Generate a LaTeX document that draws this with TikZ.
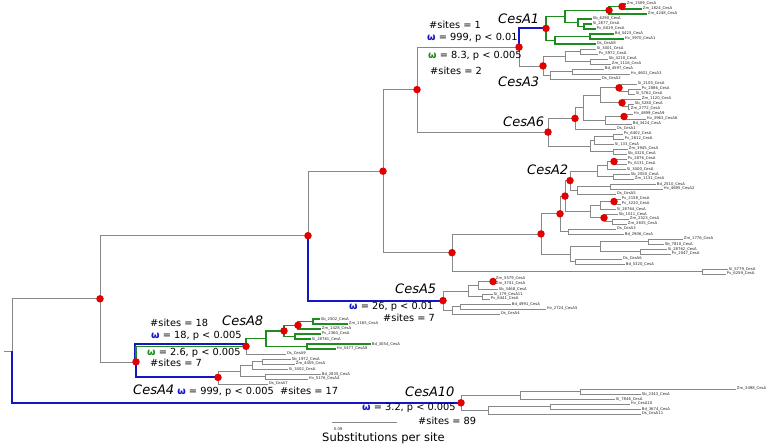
\documentclass[tikz,border=0pt]{standalone}
\usepackage{fontspec}
\setmainfont{DejaVu Sans}
\usetikzlibrary{positioning}

\definecolor{brgray}{HTML}{888888}
\definecolor{selblue}{HTML}{1414C8}
\definecolor{selgreen}{HTML}{1E8C1E}
\definecolor{dotred}{HTML}{E00000}
\newcommand{\wblue}{\textcolor{selblue}{\bfseries ω}}
\newcommand{\wgreen}{\textcolor{selgreen}{\bfseries ω}}

\tikzset{
  br/.style={draw=brgray, line width=0.8pt},
  brblue/.style={draw=selblue, line width=2pt},
  brgreen/.style={draw=selgreen, line width=1.3pt},
  leaf/.style={anchor=west, inner sep=0.7pt, font=\fontsize{3.8}{4}\selectfont, text=black!85},
  note/.style={anchor=west, inner sep=0pt, font=\fontsize{9.8}{11}\selectfont},
  clade/.style={anchor=west, inner sep=0pt, font=\fontsize{13}{15}\selectfont\itshape},
  supdot/.style={fill=dotred, circle, inner sep=0pt, minimum size=7.5pt}
}

\begin{document}
\begin{tikzpicture}[x=1pt,y=-1pt]
\useasboundingbox (0,0) rectangle (777,445);

% leaves, 5px apart
\foreach \i/\x/\t in {
  1/626/Zm\_1509\_CesA, 2/642/Zm\_1824\_CesA, 3/647/Zm\_4248\_CesA,
  4/592/Sb\_6290\_CesA, 5/592/Si\_2877\_CesA, 6/596/Pv\_6019\_CesA,
  7/614/Bd\_5425\_CesA, 8/624/Hv\_3970\_CesA1, 9/596/Os\_CesA8,
  10/596/Si\_3401\_CesA, 11/598/Pv\_5972\_CesA, 12/608/Sb\_4210\_CesA,
  13/611/Zm\_1116\_CesA, 14/604/Bd\_4597\_CesA, 15/630/Hv\_4601\_CesA3,
  16/601/Os\_CesA2, 17/637/Si\_2105\_CesA, 18/641/Pv\_2886\_CesA,
  19/635/Si\_5762\_CesA, 20/641/Zm\_1120\_CesA, 21/634/Sb\_5280\_CesA,
  22/630/Zm\_2772\_CesA, 23/633/Hv\_4899\_CesA9, 24/646/Hv\_3963\_CesA6,
  25/632/Bd\_3424\_CesA, 26/616/Os\_CesA1, 27/623/Pv\_6402\_CesA,
  28/624/Pv\_2612\_CesA, 29/614/Si\_133\_CesA, 30/628/Zm\_3945\_CesA,
  31/627/Sb\_4320\_CesA, 32/627/Pv\_2876\_CesA, 33/627/Pv\_6131\_CesA,
  34/626/Si\_3400\_CesA, 35/630/Sb\_2050\_CesA, 36/634/Zm\_1131\_CesA,
  37/656/Bd\_2510\_CesA, 38/663/Hv\_4695\_CesA2, 39/616/Os\_CesA5,
  40/621/Pv\_2158\_CesA, 41/621/Pv\_3220\_CesA, 42/616/Si\_28764\_CesA,
  43/618/Sb\_1011\_CesA, 44/629/Zm\_2523\_CesA, 45/627/Zm\_2835\_CesA,
  46/616/Os\_CesA3, 47/624/Bd\_2906\_CesA, 48/683/Zm\_1776\_CesA,
  49/664/Sb\_7810\_CesA, 50/667/Si\_28762\_CesA, 51/671/Pv\_2047\_CesA,
  52/622/Os\_CesA6, 53/625/Bd\_5320\_CesA, 54/728/Si\_5779\_CesA,
  55/726/Pv\_6259\_CesA, 56/495/Zm\_5579\_CesA, 57/495/Zm\_3741\_CesA,
  58/498/Sb\_3468\_CesA, 59/493/Si\_179\_CesA11, 60/490/Pv\_6441\_CesA,
  61/511/Bd\_4991\_CesA, 62/546/Hv\_2724\_CesA5, 63/500/Os\_CesA4,
  64/320/Sb\_2502\_CesA, 65/348/Zm\_1165\_CesA, 66/321/Zm\_1428\_CesA,
  67/321/Pv\_2360\_CesA, 68/311/Si\_28761\_CesA, 69/371/Bd\_3054\_CesA,
  70/336/Hv\_5477\_CesA8, 71/286/Os\_CesA9, 72/291/Sb\_1972\_CesA,
  73/295/Zm\_4459\_CesA, 74/288/Si\_3402\_CesA, 75/321/Bd\_2835\_CesA,
  76/308/Hv\_5176\_CesA4, 77/268/Os\_CesA7, 78/736/Zm\_3498\_CesA,
  79/641/Sb\_2343\_CesA, 80/615/Si\_7846\_CesA, 81/630/Hv\_CesA10,
  82/641/Bd\_3674\_CesA, 83/641/Os\_CesA11}{
  \coordinate (t\i) at (\x,{5*\i-1});
  \node[leaf] (l\i) at (t\i) {\t};
}

% inner nodes
\foreach \n/\x/\y in {
  s0/4/350.9, r/12/350.9, n1/100/298.8, U/308/235.7, V/383/171.2,
  A/417/89.6, B/519/47.1, W/452/252.7, X/702/271.5,
  c1/546/28.4, a1/622/6.5, a2/609/10.3, a3/578/22.8, a4/584/26.5,
  a5/565/16.5, a6/555/40.3, a7/590/36.5,
  c3/543/65.9, b1/565/56.5, b2/550/75.3, b3/580/51.5, b4/590/61.5, b5/572/71.5,
  c6/548/132.1, d1/575/118.4, d2/583/107.8, d3/600/95.3, d4/605/120.3,
  d5/619/87.8, d6/622/102.8, d7/628/91.5, d8/628/106.5, d9/624/116.5,
  e1/590/145.9, e2/594/140.3, e3/613/151.5, e4/613/136.5,
  c2a/541/233.9, c2b/560/213.8, c2c/565/196.1, c2d/570/180.6,
  i1/597/170.9, i2/577/190.3, i3/610/186.5, i5/614/161.5, i6/607/165.3, i7/613/176.5,
  h1/568/231.5, h2/590/211.5, h3/600/205.3, h4/604/217.8, h5/614/201.5, h6/612/221.5,
  f1/570/254, f2/600/246.5, f3/575/261.5, f4/648/241.5, f5/640/251.5,
  c5/443/300.6, j1/468/290.9, j2/452/310.3, j3/478/285.3, j4/482/296.5,
  j5/493/281.5, j6/460/306.5,
  c48/136/361.9, c8/246/346.3, k1/266/338.7, k2/284/330.9, k3/307/346.5,
  k4/298/325.3, k5/313/321.5, k6/295/336.5,
  c4/218/377.4, m1/240/370.9, m2/252/365.3, m3/265/376.5, m4/262/361.5,
  c10/461/402.8, p1/520/395.3, p2/488/410.3, p3/580/391.5, p4/550/406.5}
  \coordinate (\n) at (\x,\y);

% grey branches
\draw[br] (s0) -- (r);
\foreach \p/\c in {r/n1, n1/U, n1/c48, U/V, V/A, V/W, A/B, A/c6,
  B/c3, c3/b1, c3/b2, b1/b3, b1/b4, b3/t10, b3/t11, b4/t12, b4/t13,
  b2/b5, b2/t16, b5/t14, b5/t15,
  c6/d1, c6/e1, d1/d2, d1/t26, d2/d3, d2/d4, d3/d5, d3/d6, d5/t17, d5/d7,
  d7/t18, d7/t19, d6/t20, d6/d8, d8/t21, d8/t22, d4/d9, d4/t25, d9/t23, d9/t24,
  e1/e2, e1/e3, e2/e4, e2/t29, e4/t27, e4/t28, e3/t30, e3/t31,
  W/c2a, W/X, X/t54, X/t55, c2a/c2b, c2a/f1, c2b/c2c, c2b/h1, h1/t46, h1/t47,
  c2c/c2d, c2c/h2, c2d/i1, c2d/i2, i1/i6, i1/i7, i6/i5, i6/t34, i5/t32, i5/t33,
  i7/t35, i7/t36, i2/i3, i2/t39, i3/t37, i3/t38,
  h2/h3, h2/h4, h3/h5, h3/t42, h5/t40, h5/t41, h4/t43, h4/h6, h6/t44, h6/t45,
  f1/f2, f1/f3, f2/f4, f2/f5, f4/t48, f4/t49, f5/t50, f5/t51, f3/t52, f3/t53,
  c5/j1, c5/j2, j1/j3, j1/j4, j3/j5, j3/t58, j5/t56, j5/t57, j4/t59, j4/t60,
  j2/j6, j2/t63, j6/t61, j6/t62,
  c8/t71, c4/m1, c4/t77, m1/m2, m1/m3, m2/m4, m2/t74, m4/t72, m4/t73, m3/t75, m3/t76,
  c10/p1, c10/p2, p1/p3, p1/t80, p3/t78, p3/t79, p2/p4, p2/t83, p4/t81, p4/t82}
  \draw[br] (\p) |- (\c);

% green clades
\foreach \p/\c in {c1/a5, c1/a6, a5/a2, a5/a3, a2/a1, a2/t3, a1/t1, a1/t2,
  a3/t4, a3/a4, a4/t5, a4/t6, a6/a7, a6/t9, a7/t7, a7/t8,
  c8/k1, k1/k2, k1/k3, k2/k4, k2/k6, k4/k5, k4/t66, k5/t64, k5/t65,
  k6/t67, k6/t68, k3/t69, k3/t70}
  \draw[brgreen] (\p) |- (\c);

% blue branches
\foreach \p/\c in {r/c10, U/c5, c48/c4, B/c1}
  \draw[brblue] (\p) |- (\c);
\draw[brblue] ([xshift=-1.5pt]c48) |- ([yshift=2.5pt]c8);
\draw[brgreen] (c48) |- (c8);

% supported nodes
\foreach \n in {n1, c48, c8, c4, k2, k4, U, V, A, B, c1, a1, a2, c3, c6,
  d1, d5, d6, d9, W, c2a, c2b, c2c, c2d, i5, h5, h4, c5, j5, c10}
  \node[supdot] at (\n) {};

% annotations
\node[note] (sA1) at (429,25) {\#sites = 1};
\node[clade] (nA1) at (498,19) {CesA1};
\node[note] (wA1) at (427,37.5) {\wblue{} = 999, p < 0.01};
\node[note] (wA3) at (428,56) {\wgreen{} = 8.3, p < 0.005};
\node[note] (sA3) at (430,71) {\#sites = 2};
\node[clade] (nA3) at (498,82) {CesA3};
\node[clade] (nA6) at (503,122) {CesA6};
\node[clade] (nA2) at (527,170) {CesA2};
\node[clade] (nA5) at (395,289) {CesA5};
\node[note] (wA5) at (349,307) {\wblue{} = 26, p < 0.01};
\node[note] (sA5) at (383,318) {\#sites = 7};
\node[note] (sA8) at (150,323) {\#sites = 18};
\node[clade] (nA8) at (222,321) {CesA8};
\node[note] (wA8) at (151,335.5) {\wblue{} = 18, p < 0.005};
\node[note] (wA8g) at (147,352.5) {\wgreen{} = 2.6, p < 0.005};
\node[note] (sA8g) at (150,362.5) {\#sites = 7};
\node[note] (nA4) at (133,391) {{\fontsize{13}{15}\selectfont\itshape CesA4} \wblue{} = 999, p < 0.005\ \ \#sites = 17};
\node[clade] (nA10) at (405,392) {CesA10};
\node[note] (wA10) at (362,408) {\wblue{} = 3.2, p < 0.005};
\node[note] (sA10) at (418,421) {\#sites = 89};

% scale bar
\coordinate (sb0) at (332,422);
\coordinate (sb1) at (397,422);
\draw[br] (sb0) -- (sb1);
\node[leaf] (sbl) at (333,429) {0.09};
\node[note, font=\fontsize{11.5}{13}\selectfont] (sbt) at (322,438) {Substitutions per site};
\end{tikzpicture}
\end{document}
